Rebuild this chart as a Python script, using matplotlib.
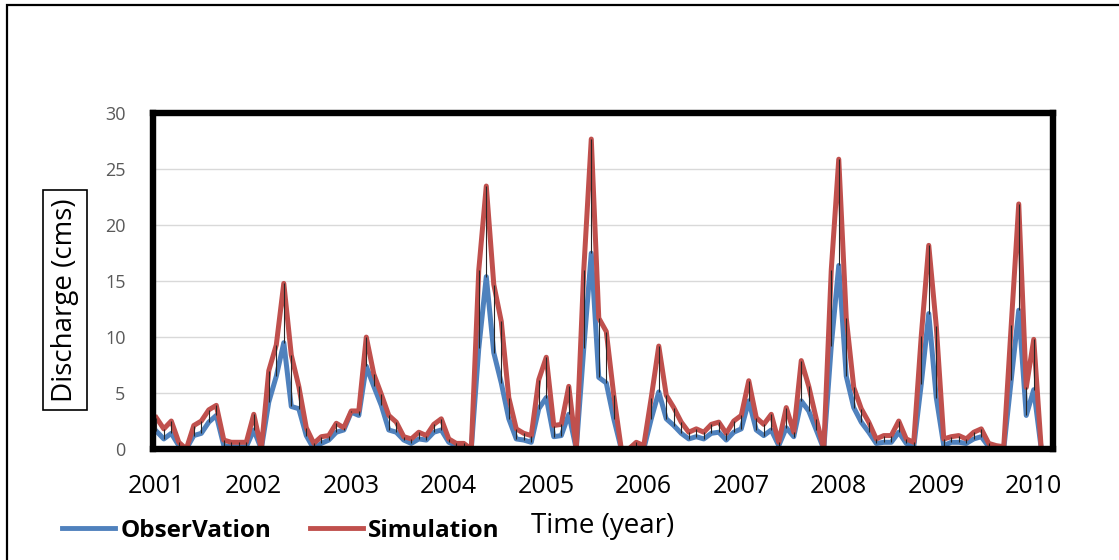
import matplotlib.pyplot as plt
import matplotlib.patches as patches
import numpy as np

plt.rcParams['font.family'] = ['Open Sans', 'DejaVu Sans']

# monthly discharge (cms), 120 steps
observed = [1.6, 0.9, 1.4, 0.3, 0, 1.2, 1.4, 2.4, 3.0, 0.3, 0.2, 0.2,
            0.2, 1.7, 0, 4.2, 6.5, 9.5, 3.8, 3.6, 1.2, 0, 0.5, 0.8,
            1.5, 1.7, 3.3, 3.0, 7.4, 5.6, 3.9, 1.7, 1.5, 0.8, 0.5, 0.9,
            0.8, 1.5, 1.7, 0.6, 0.3, 0.2, 0, 9.0, 15.4, 8.6, 5.9, 2.7,
            0.9, 0.8, 0.6, 3.6, 4.6, 1.1, 1.2, 3.1, 0, 9.0, 17.5, 6.4,
            5.9, 2.7, 0, 0, 0.3, 0, 2.7, 5.1, 2.7, 2.1, 1.4, 0.9,
            1.1, 0.9, 1.4, 1.5, 0.8, 1.5, 1.8, 4.3, 1.7, 1.2, 1.7, 0.3,
            1.9, 1.1, 4.3, 3.4, 1.7, 0, 9.2, 16.4, 6.5, 3.7, 2.4, 1.5,
            0.5, 0.6, 0.6, 1.5, 0.5, 0.2, 5.8, 12.1, 4.6, 0.3, 0.6, 0.6,
            0.5, 0.9, 1.1, 0.2, 0.2, 0, 6.2, 12.4, 3.0, 5.3, 0, 0]

simulated = [2.8, 1.8, 2.5, 0.6, 0, 2.1, 2.5, 3.5, 3.9, 0.8, 0.6, 0.6,
             0.6, 3.1, 0, 7.0, 9.3, 14.8, 8.4, 5.6, 1.9, 0.5, 1.1, 1.2,
             2.3, 1.9, 3.4, 3.4, 10.0, 6.7, 4.9, 3.0, 2.4, 1.1, 0.9, 1.5,
             1.2, 2.2, 2.7, 0.9, 0.5, 0.5, 0, 16.0, 23.5, 14.7, 11.4, 4.6,
             1.8, 1.4, 1.2, 6.2, 8.2, 2.1, 2.2, 5.6, 0, 16.0, 27.7, 11.7,
             10.5, 4.8, 0, 0, 0.6, 0.3, 4.6, 9.2, 4.8, 3.7, 2.4, 1.5,
             1.8, 1.5, 2.2, 2.4, 1.4, 2.5, 3.0, 6.1, 2.8, 2.2, 3.1, 0.6,
             3.7, 1.5, 7.9, 5.6, 2.7, 0, 16.0, 25.9, 11.7, 5.5, 3.6, 2.4,
             0.9, 1.2, 1.2, 2.5, 0.9, 0.6, 10.1, 18.2, 11.0, 0.9, 1.1, 1.2,
             0.9, 1.5, 1.8, 0.5, 0.3, 0.2, 11.1, 21.9, 5.5, 9.8, 0, 0]

years = ['2001', '2002', '2003', '2004', '2005',
         '2006', '2007', '2008', '2009', '2010']
label_step = 13

x = np.arange(len(observed))

fig = plt.figure(figsize=(11.19, 5.6), dpi=100)
W, H = 1119, 560
ax = fig.add_axes([153.3 / W, 1 - 449 / H, (1052.5 - 153.3) / W, (449 - 113.3) / H])

ax.plot(x, observed, color='#4f81bd', lw=3.6, solid_joinstyle='round', zorder=3,
        label='ObserVation')
ax.plot(x, simulated, color='#c0504d', lw=3.6, solid_joinstyle='round', zorder=4,
        label='Simulation')
# high-low lines between the two series
ax.vlines(x, observed, simulated, color='#262626', lw=0.8, zorder=5)

ax.set_xlim(-0.4, 119.5)
ax.set_ylim(0, 30)
ax.set_yticks(range(0, 31, 5))
ax.yaxis.grid(True, color='#d9d9d9', lw=1)
ax.set_axisbelow(True)
ax.tick_params(axis='y', length=0, pad=20, labelsize=13, labelcolor='#595959')
ax.tick_params(axis='x', length=0, pad=18, labelsize=18, labelcolor='#000000')
ax.set_xticks(np.arange(len(years)) * label_step)
ax.set_xticklabels(years)
for s in ax.spines.values():
    s.set_linewidth(4.6)
    s.set_color('black')
    s.set_zorder(6)

fig.text(65 / W, 1 - 300 / H, 'Discharge (cms)', rotation=90, fontsize=20,
         ha='center', va='center',
         bbox=dict(boxstyle='square,pad=0.3', fc='white', ec='black', lw=1.2))
fig.text(603 / W, 1 - 526 / H, 'Time (year)', fontsize=20, ha='center', va='center')

leg = fig.legend(loc='center left', bbox_to_anchor=(40 / W, 1 - 531 / H), ncol=2,
                 frameon=False, handlelength=2.2, handletextpad=0.2,
                 columnspacing=1.6, prop={'weight': 'bold', 'size': 17.5})
for h in leg.get_lines():
    h.set_linewidth(3.5)

# outer border
fig.add_artist(patches.Rectangle((7.3 / W, -0.1), 1.2, 1 - 5.3 / H + 0.1,
                                 transform=fig.transFigure, fill=False,
                                 ec='black', lw=1.6))

fig.savefig('out.png', dpi=100)
